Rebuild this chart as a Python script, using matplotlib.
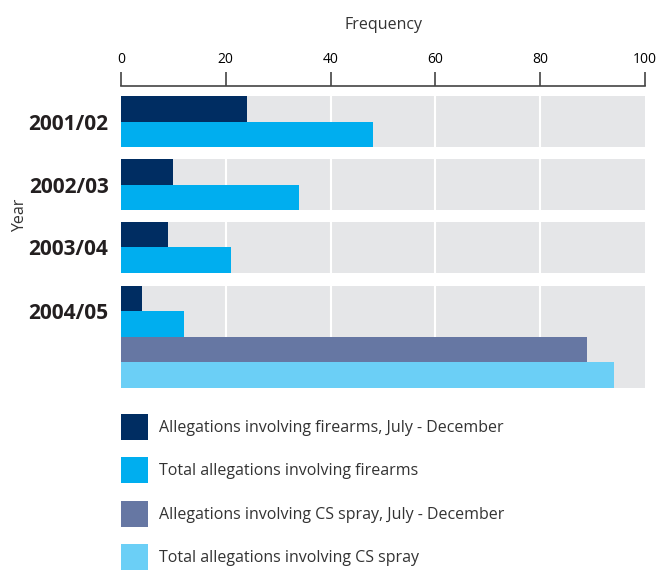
import numpy as np
import matplotlib.pyplot as plt
from matplotlib.patches import Patch

years = ['2001/02', '2002/03', '2003/04', '2004/05']
firearms_jul_dec = [24, 10, 9, 4]
firearms_total = [48, 34, 21, 12]
cs_jul_dec = [89]      # only recorded for 2004/05
cs_total = [94]
freq_ticks = [0, 20, 40, 60, 80, 100]

labels = ['Allegations involving firearms, July - December',
          'Total allegations involving firearms',
          'Allegations involving CS spray, July - December',
          'Total allegations involving CS spray']
colors = ['#002d62', '#00aeef', '#6677a3', '#6bcff6']
panel_grey = '#e5e6e8'

plt.rcParams['font.family'] = ['Open Sans', 'DejaVu Sans']

fig = plt.figure(figsize=(6.59, 5.71), dpi=100)
W, H = 659, 571
ax = fig.add_axes([121 / W, 1 - 388 / H, (645 - 121) / W, (388 - 96) / H])

# panel layout, in bar heights (1 = one bar)
panel_top = np.array([0, 2.47, 4.93, 7.43])
n_bars = [2, 2, 2, 4]

for i, top in enumerate(panel_top):
    h = n_bars[i]
    ax.barh(top + h / 2, 100, height=h, color=panel_grey, zorder=0)
    for g in freq_ticks[1:-1]:
        ax.plot([g, g], [top, top + h], color='white', lw=1.5, zorder=1)
    ax.barh(top + 0.5, firearms_jul_dec[i], height=1, color=colors[0], zorder=2)
    ax.barh(top + 1.5, firearms_total[i], height=1, color=colors[1], zorder=2)

last = panel_top[-1]
ax.barh(last + 2.5, cs_jul_dec[0], height=1, color=colors[2], zorder=2)
ax.barh(last + 3.5, cs_total[0], height=1, color=colors[3], zorder=2)

ax.set_xlim(0, 100)
ax.set_ylim(panel_top[-1] + 4, 0)

ax.set_yticks(panel_top + 1)
ax.set_yticklabels(years, fontsize=15, fontweight='bold', color='#231f20')
ax.tick_params(axis='y', length=0, pad=9)
ax.set_ylabel('Year', fontsize=11.5, color='#333333')
ax.yaxis.set_label_coords(-0.177, 0.59)

ax.xaxis.tick_top()
ax.xaxis.set_label_position('top')
ax.tick_params(axis='x', direction='out', length=10, width=1.2, color='#444444', pad=4)
ax.set_xticks(freq_ticks)
ax.set_xticklabels([str(v) for v in freq_ticks], fontsize=12.5,
                   fontweight='bold', color='#231f20')
ax.set_xlabel('Frequency', fontsize=11.5, color='#333333', labelpad=16)

for s in ('left', 'right', 'bottom'):
    ax.spines[s].set_visible(False)
ax.spines['top'].set_position(('outward', 7.2))
ax.spines['top'].set_color('#444444')
ax.spines['top'].set_linewidth(1.2)

handles = [Patch(facecolor=c, edgecolor='none') for c in colors]
fig.legend(handles, labels, loc='upper left', bbox_to_anchor=(121 / W, 1 - 414 / H),
           frameon=False, fontsize=11.5, borderpad=0, borderaxespad=0,
           handlelength=1.69, handleheight=2.12, handletextpad=0.69,
           labelspacing=1.1, labelcolor='#333333')

fig.savefig('out.png', dpi=100)
